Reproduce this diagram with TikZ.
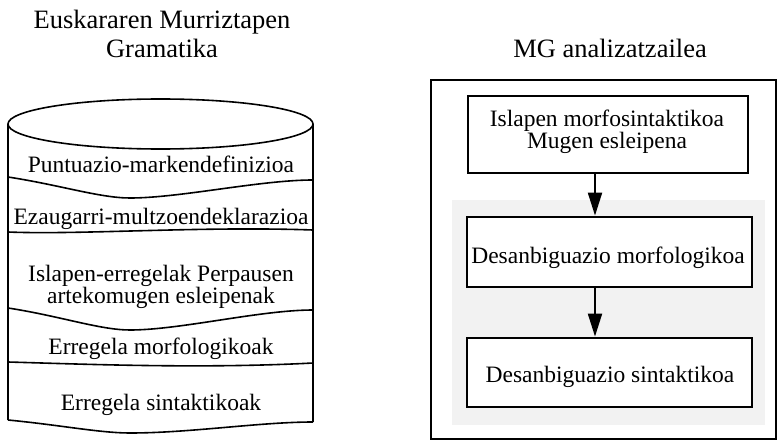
\documentclass[tikz,border=0pt]{standalone}
\usepackage{fontspec}
\setmainfont{Liberation Serif}
\usetikzlibrary{arrows.meta}
\begin{document}
\begin{tikzpicture}[x=1pt,y=-1pt,
  body/.style={font=\fontsize{23.5}{21}\selectfont, inner sep=0pt, anchor=base},
  pair/.style={font=\fontsize{23.5}{21}\selectfont, inner sep=0pt, align=center},
  ttl/.style={font=\fontsize{26.5}{26}\selectfont, inner sep=0pt, anchor=base},
  drum/.style={line width=1.6pt, line join=round},
  thinbox/.style={draw, line width=1.7pt, fill=white, inner sep=0pt},
  thickbox/.style={draw, line width=2.8pt, fill=white, inner sep=0pt},
  arr/.style={line width=2pt, -{Triangle[length=23pt,width=14pt]}},
  haze/.style={fill=black!5, draw=none}]
\useasboundingbox (0,0) rectangle (779,441);

% headings
\node[ttl] (h1) at (162,29) {Euskararen Murriztapen};
\node[ttl] (h2) at (162,58) {Gramatika};
\node[ttl] (h3) at (610,58) {MG analizatzailea};

% grammar drum: top ellipse, sides and wavy layer borders
\draw[drum] (160.5,124) ellipse [x radius=152.5pt, y radius=25pt];
\draw[drum] (8,124) -- (8,420);
\draw[drum] (313,124) -- (313,422);
\draw[drum] (8,177) .. controls (60,185) and (100,198) .. (130,198)
                    .. controls (180,198) and (260,180) .. (313,180);
\draw[drum] (8,232) .. controls (80,235) and (200,226) .. (313,230);
\draw[drum] (8,308) .. controls (60,316) and (100,330) .. (130,330)
                    .. controls (180,330) and (260,310) .. (313,310);
\draw[drum] (8,362) .. controls (80,364) and (200,369) .. (313,363);
\draw[drum] (8,420) .. controls (60,425) and (100,433) .. (130,433)
                    .. controls (190,433) and (260,422) .. (313,422);

\node[body] (g1) at (161,172) {Puntuazio-markendefinizioa};
\node[body] (g2) at (161,224) {Ezaugarri-multzoendeklarazioa};
\node[pair] (g3) at (161,287) {Islapen-erregelak Perpausen\\artekomugen esleipenak};
\node[body] (g4) at (161,354) {Erregela morfologikoak};
\node[body] (g5) at (161,410) {Erregela sintaktikoak};

% analyser frame
\draw[line width=1.5pt] (431,80) rectangle (776,439);
\fill[haze] (452,200) rectangle (765,425);

\coordinate (ax) at (595,0);
\node[thinbox, minimum width=280pt, minimum height=77pt] (s1) at (608,134.5) {};
\node[thickbox, minimum width=285pt, minimum height=70pt] (s2) at (609.5,252) {};
\node[thickbox, minimum width=285pt, minimum height=69pt] (s3) at (609.5,372.5) {};

\node[pair] (t1) at (607,132) {Islapen morfosintaktikoa\\Mugen esleipena};
\node[body] (t2) at (608,263) {Desanbiguazio morfologikoa};
\node[body] (t3) at (610,382) {Desanbiguazio sintaktikoa};

\draw[arr] (s1.south -| ax) -- (s2.north -| ax);
\draw[arr] (s2.south -| ax) -- (s3.north -| ax);
\end{tikzpicture}
\end{document}
